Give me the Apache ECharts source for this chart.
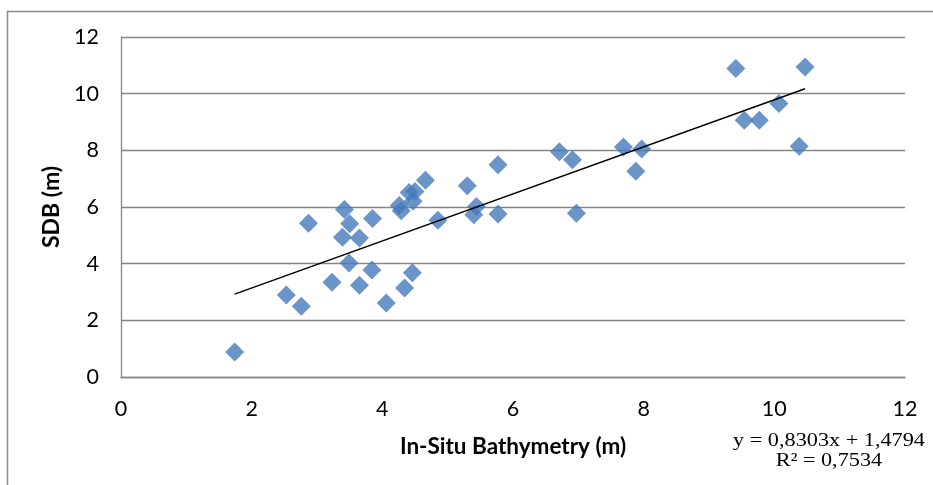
<!DOCTYPE html>
<html>
<head>
<meta charset="utf-8">
<script src="https://cdn.jsdelivr.net/npm/echarts@6/dist/echarts.min.js"></script>
<style>
  html, body { margin: 0; padding: 0; background: #ffffff; }
  #chart { width: 933px; height: 485px; }
</style>
</head>
<body>
<div id="chart"></div>
<script>
// In-situ bathymetry (m) — x values
const insitu = [1.74, 2.53, 2.76, 2.87, 3.23, 3.42, 3.50, 3.39, 3.65, 3.49,
                3.65, 3.85, 3.84, 4.06, 4.26, 4.29, 4.34, 4.46, 4.41, 4.50,
                4.47, 4.66, 4.85, 5.30, 5.44, 5.40, 5.77, 5.77, 6.71, 6.91,
                6.97, 7.69, 7.97, 7.88, 9.41, 9.54, 9.77, 10.07, 10.38, 10.47];
// SDB (m) — y values
const sdb =    [0.88, 2.89, 2.50, 5.43, 3.34, 5.91, 5.41, 4.93, 4.91, 4.02,
                3.24, 5.59, 3.78, 2.61, 6.05, 5.87, 3.14, 3.68, 6.51, 6.55,
                6.20, 6.94, 5.53, 6.75, 6.02, 5.73, 7.49, 5.75, 7.95, 7.67,
                5.78, 8.12, 8.05, 7.26, 10.89, 9.06, 9.06, 9.65, 8.14, 10.94];
// Linear trend coefficients
const slope = 0.8303;
const intercept = 1.4794;
const equationLabels = ['y = 0,8303x + 1,4794', 'R² = 0,7534'];
const xTicks = [0, 2, 4, 6, 8, 10, 12];
const yTicks = [0, 2, 4, 6, 8, 10, 12];

const points = insitu.map((x, i) => [x, sdb[i]]);
const xMin = Math.min(...insitu), xMax = Math.max(...insitu);
const trend = [[xMin, slope * xMin + intercept], [xMax, slope * xMax + intercept]];

const chart = echarts.init(document.getElementById('chart'), null, { renderer: 'canvas' });
const gridLeft = 121, gridTop = 37, gridRight = 28, gridBottom = 108;
chart.setOption({
  animation: false,
  backgroundColor: '#ffffff',
  grid: { left: gridLeft, top: gridTop, right: gridRight, bottom: gridBottom, containLabel: false },
  xAxis: {
    type: 'value', min: xTicks[0], max: xTicks[xTicks.length - 1], interval: xTicks[1] - xTicks[0],
    axisLine: { show: true, lineStyle: { color: '#868686', width: 1.3 } },
    axisTick: { show: false },
    splitLine: { show: false },
    axisLabel: { color: '#000', fontFamily: 'Lato', fontSize: 21.5, margin: 21 },
    name: 'In-Situ Bathymetry (m)', nameLocation: 'middle', nameGap: 58,
    nameTextStyle: { color: '#000', fontFamily: 'Lato', fontWeight: 'bold', fontSize: 22.5 }
  },
  yAxis: {
    type: 'value', min: yTicks[0], max: yTicks[yTicks.length - 1], interval: yTicks[1] - yTicks[0],
    axisLine: { show: true, lineStyle: { color: '#868686', width: 1.3 } },
    axisTick: { show: false },
    splitLine: { show: true, lineStyle: { color: '#868686', width: 1.3 } },
    axisLabel: { color: '#000', fontFamily: 'Lato', fontSize: 21.5, margin: 22 },
    name: 'SDB (m)', nameLocation: 'middle', nameGap: 57, nameRotate: 90,
    nameTextStyle: { color: '#000', fontFamily: 'Lato', fontWeight: 'bold', fontSize: 23 }
  },
  series: [
    {
      type: 'scatter', data: points, symbol: 'diamond', symbolSize: 19,
      itemStyle: { color: '#4679BA' }, z: 3
    },
    {
      type: 'line', data: trend, symbol: 'none', z: 4,
      lineStyle: { color: '#000', width: 1.5 }
    }
  ],
  graphic: [
    { type: 'rect', shape: { x: 7.5, y: 11.5, width: 1200, height: 1200 },
      style: { fill: 'none', stroke: '#8a8a8a', lineWidth: 1.5 }, silent: true, z: -1 },
    { type: 'text', x: 829, y: 441, scaleX: 1.14,
      style: { text: equationLabels[0], x: 0, y: 0, textAlign: 'center', textVerticalAlign: 'middle',
               font: '19.5px "Liberation Serif"', fill: '#000' } },
    { type: 'text', x: 829, y: 461, scaleX: 1.14,
      style: { text: equationLabels[1], x: 0, y: 0, textAlign: 'center', textVerticalAlign: 'middle',
               font: '19.5px "Liberation Serif"', fill: '#000' } }
  ]
});
</script>
</body>
</html>
